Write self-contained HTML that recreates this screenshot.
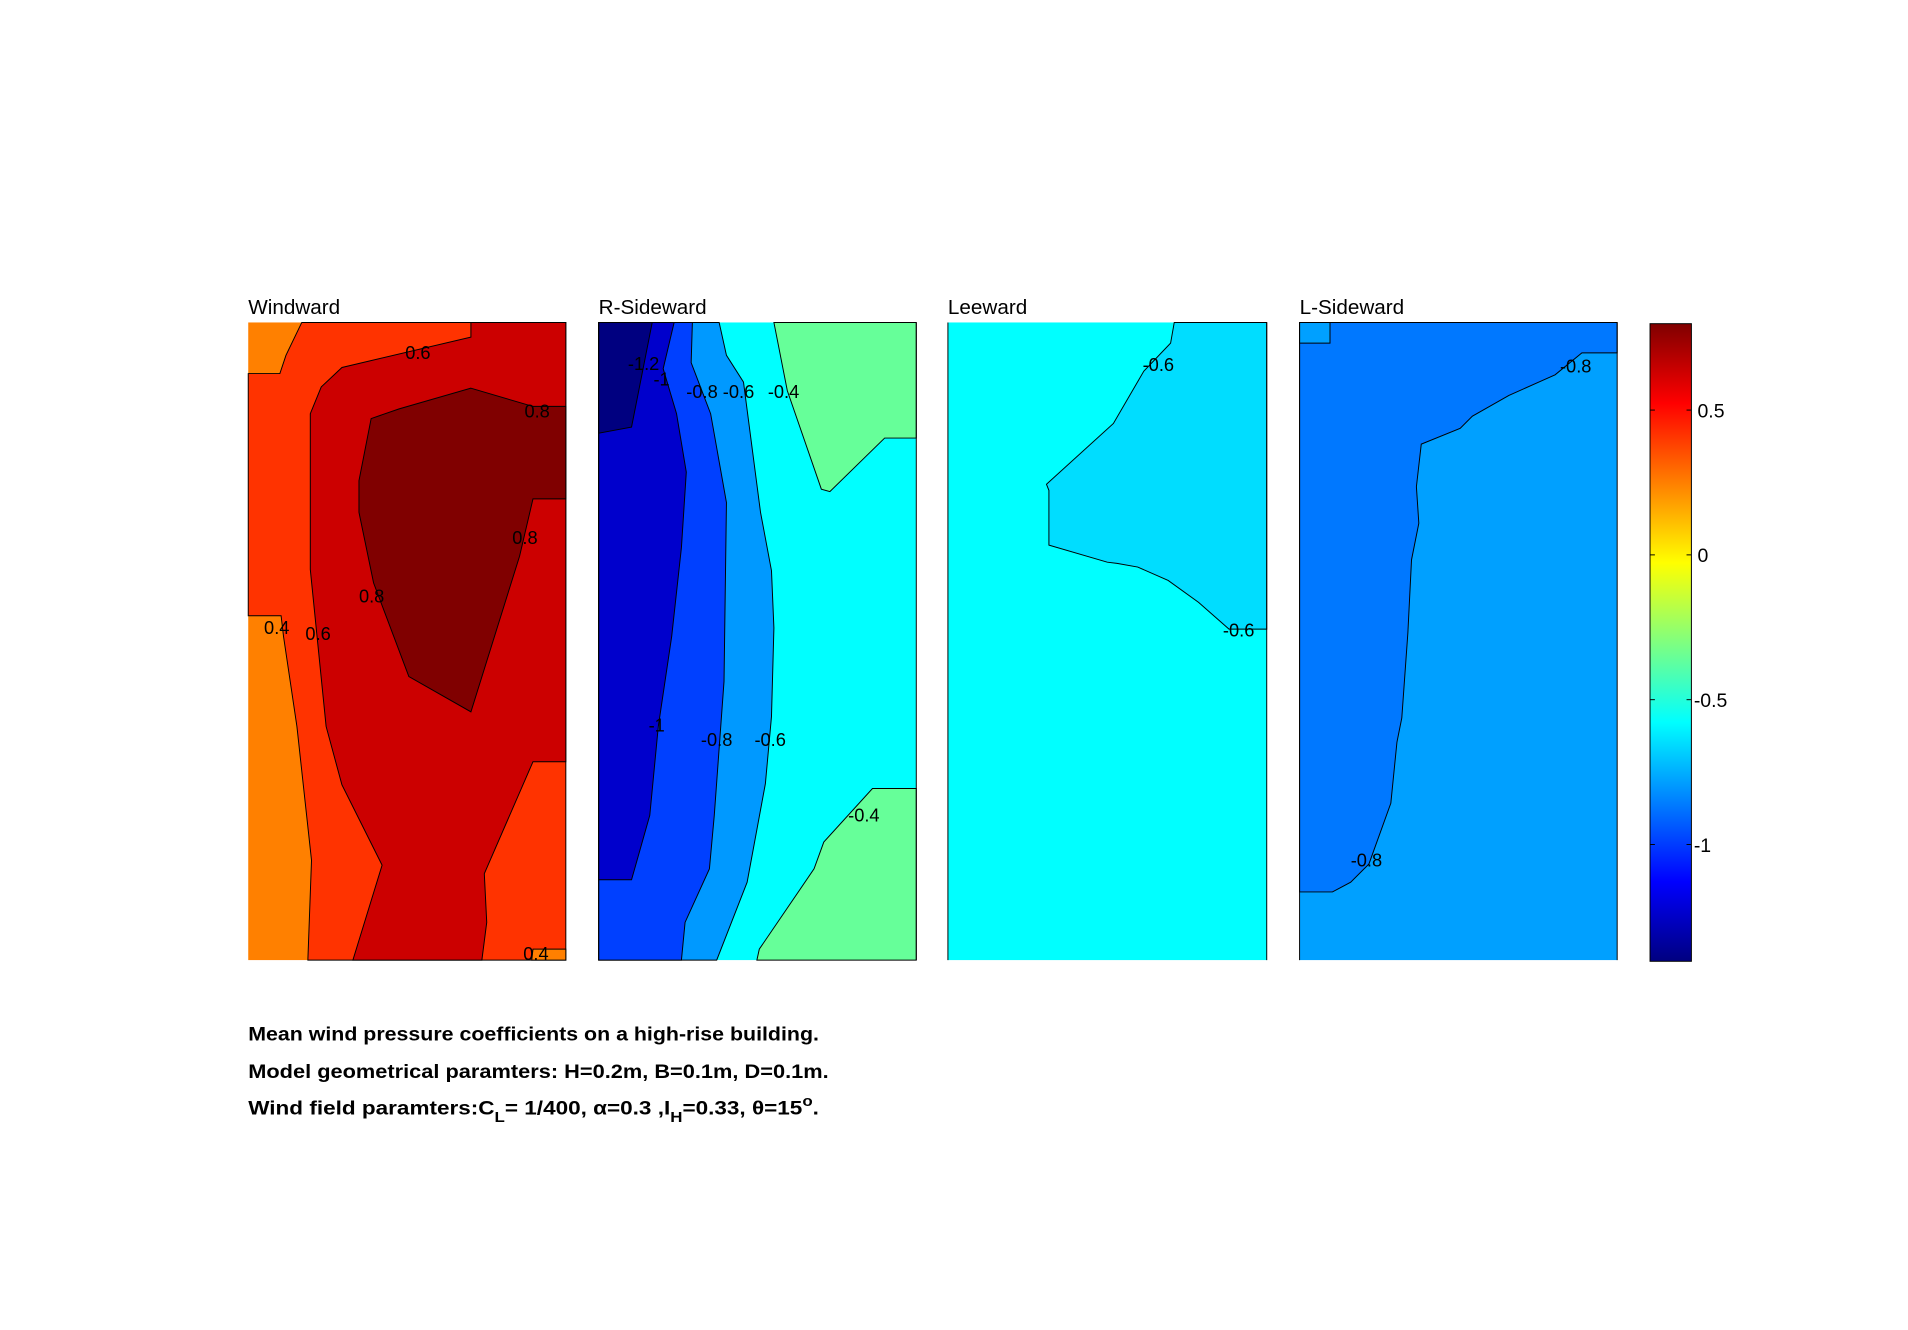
<!DOCTYPE html>
<html><head><meta charset="utf-8"><style>
html,body{margin:0;padding:0;background:#fff;width:1908px;height:1330px;overflow:hidden}
svg{display:block}
text{font-family:"Liberation Sans",Arial,sans-serif}
</style></head><body>
<svg width="1908" height="1330" viewBox="0 0 1568 1093" preserveAspectRatio="none" xmlns="http://www.w3.org/2000/svg">
<defs>
<linearGradient id="jet" x1="0" y1="1" x2="0" y2="0">
<stop offset="0" stop-color="#000080"/>
<stop offset="0.125" stop-color="#0000ff"/>
<stop offset="0.375" stop-color="#00ffff"/>
<stop offset="0.625" stop-color="#ffff00"/>
<stop offset="0.875" stop-color="#ff0000"/>
<stop offset="1" stop-color="#800000"/>
</linearGradient>
</defs>
<g stroke="#000" stroke-width="0.8" font-size="16">
<!-- Windward -->
<rect x="204" y="265" width="261" height="524" fill="#ff8000" stroke="none"/>
<polygon fill="#ff3300" points="248,265 465,265 465,789 253,789 256,707 244,597 233,523 231,506 204,506 204,307 230,307 235,292"/>
<polygon fill="#cc0000" points="387,265 387,277 281,302 264,318 255,340 255,468 268,597 281,645 314,711 290,789 396,789 400,758 398,718 438,626 465,626 465,265"/>
<polygon fill="#ff8000" points="438,780 465,780 465,789 437,789"/>
<polygon fill="#800000" points="387,319 438,334 465,334 465,410 438,410 427,457 387,585 336,556 307,479 295,421 295,395 305,344 328,336"/>
<g stroke="none" fill="#000" font-size="15">
<text x="333" y="295">0.6</text><text x="431" y="343">0.8</text><text x="421" y="447">0.8</text>
<text x="295" y="495">0.8</text><text x="217" y="521">0.4</text><text x="251" y="526">0.6</text><text x="430" y="789">0.4</text>
</g>
<!-- R-Sideward -->
<rect x="492" y="265" width="261" height="524" fill="#00ffff" stroke="none"/>
<polygon fill="#66ff99" points="636,265 647,321 675,402 682,404 727,360 753,360 753,265"/>
<polygon fill="#66ff99" points="753,648 717,648 677,692 669,714 624,780 622,789 753,789"/>
<polygon fill="#0099ff" points="591,265 597,292 611,314 625,421 634,469 636,516 634,589 629,644 614,725 589,789 492,789 492,265"/>
<polygon fill="#0040ff" points="569,265 568,298 584,340 597,413 595,560 587,670 583,714 563,758 560,789 492,789 492,265"/>
<polygon fill="#0000cc" points="554,265 545,303 556,340 564,388 560,450 552,523 541,597 534,670 519,723 492,723 492,265"/>
<polygon fill="#000080" points="536,265 519,351 492,356 492,265"/>
<g stroke="none" fill="#000" font-size="15">
<text x="516" y="304">-1.2</text><text x="537" y="317">-1</text><text x="564" y="327">-0.8</text><text x="594" y="327">-0.6</text><text x="631" y="327">-0.4</text>
<text x="533" y="601">-1</text><text x="576" y="613">-0.8</text><text x="620" y="613">-0.6</text><text x="697" y="675">-0.4</text>
</g>
<!-- Leeward -->
<rect x="779" y="265" width="262" height="524" fill="#00ffff" stroke="none"/>
<polygon fill="#00ddff" points="965,265 962,282 940,305 915,348 860,398 862,403 862,448 910,462 918,463 935,466 960,477 985,495 1010,517 1041,517 1041,265"/>
<g stroke="none" fill="#000" font-size="15">
<text x="939" y="305">-0.6</text><text x="1005" y="523">-0.6</text>
</g>
<!-- L-Sideward -->
<rect x="1068" y="265" width="261" height="524" fill="#00a0ff" stroke="none"/>
<polygon fill="#0078ff" points="1068,265 1329,265 1329,290 1300,290 1278,308 1240,325 1210,342 1200,352 1168,365 1164,400 1166,430 1160,460 1157,520 1152,590 1148,610 1143,660 1125,710 1110,725 1095,733 1068,733"/>
<polygon fill="#00a0ff" points="1068,265 1093,265 1093,282 1068,282"/>
<g stroke="none" fill="#000" font-size="15">
<text x="1282" y="306">-0.8</text><text x="1110" y="712">-0.8</text>
</g>
<g fill="none" stroke="#000" stroke-width="0.8">
<line x1="492" y1="265" x2="492" y2="789"/><line x1="753" y1="265" x2="753" y2="789"/>
<line x1="779" y1="265" x2="779" y2="789"/><line x1="1041" y1="265" x2="1041" y2="789"/>
<line x1="1068" y1="265" x2="1068" y2="789"/><line x1="1329" y1="265" x2="1329" y2="789"/>
</g>
</g>
<g font-size="17" fill="#000">
<text x="204" y="258">Windward</text><text x="492" y="258">R-Sideward</text>
<text x="779" y="258">Leeward</text><text x="1068" y="258">L-Sideward</text>
</g>
<rect x="1356" y="266" width="34" height="524" fill="url(#jet)" stroke="#000" stroke-width="0.8"/>
<g stroke="#000" stroke-width="0.8">
<line x1="1356" y1="337" x2="1360" y2="337"/><line x1="1386" y1="337" x2="1390" y2="337"/>
<line x1="1356" y1="456" x2="1360" y2="456"/><line x1="1386" y1="456" x2="1390" y2="456"/>
<line x1="1356" y1="575" x2="1360" y2="575"/><line x1="1386" y1="575" x2="1390" y2="575"/>
<line x1="1356" y1="694" x2="1360" y2="694"/><line x1="1386" y1="694" x2="1390" y2="694"/>
</g>
<g font-size="16" fill="#000">
<text x="1395" y="343">0.5</text><text x="1395" y="462">0</text><text x="1392" y="581">-0.5</text><text x="1392" y="700">-1</text>
</g>
<g font-size="16" font-weight="bold" fill="#000">
<text x="204" y="855" textLength="469" lengthAdjust="spacingAndGlyphs">Mean wind pressure coefficients on a high-rise building.</text>
<text x="204" y="886" textLength="477" lengthAdjust="spacingAndGlyphs">Model geometrical paramters: H=0.2m, B=0.1m, D=0.1m.</text>
<text x="204" y="916" textLength="469" lengthAdjust="spacingAndGlyphs">Wind field paramters:C<tspan font-size="12" dy="6">L</tspan><tspan dy="-6">= 1/400, α=0.3 ,I</tspan><tspan font-size="12" dy="6">H</tspan><tspan dy="-6">=0.33, θ=15</tspan><tspan font-size="12" dy="-7">o</tspan><tspan dy="7">.</tspan></text>
</g>
</svg>
</body></html>
